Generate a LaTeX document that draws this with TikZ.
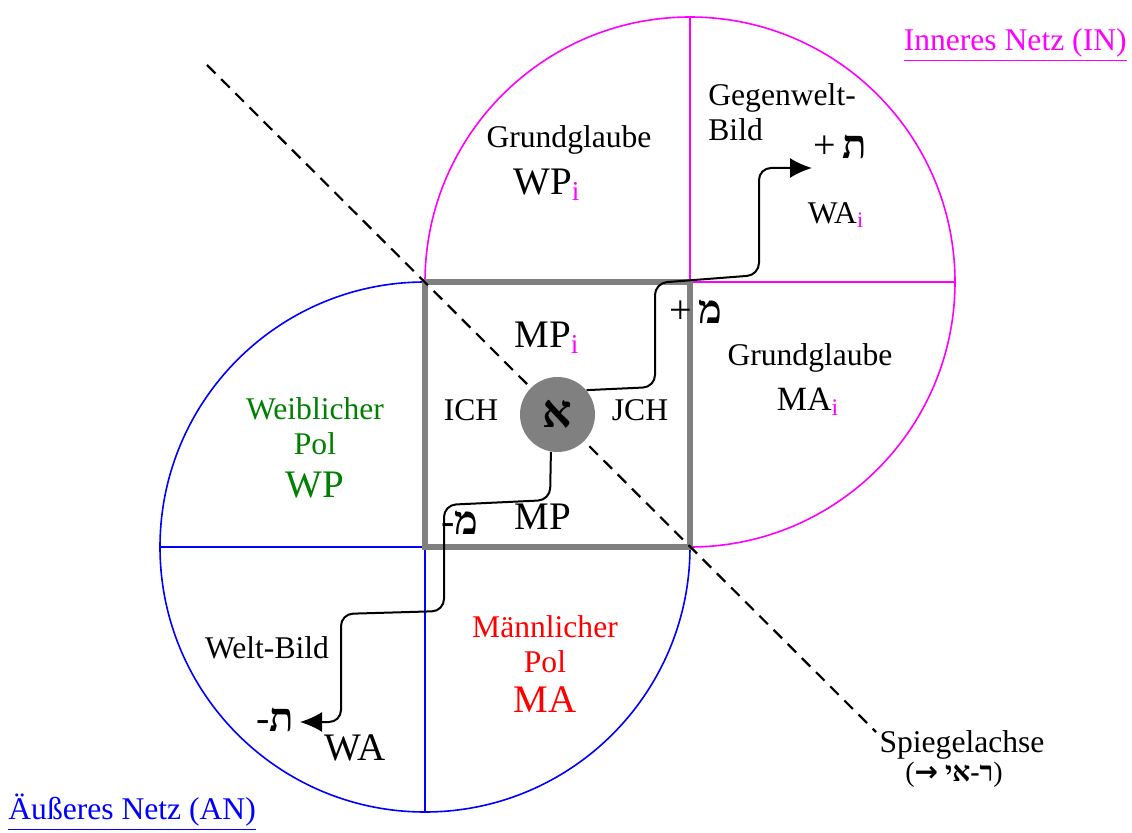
\documentclass[tikz,border=0pt]{standalone}
\usepackage{fontspec}
\setmainfont{Liberation Serif}
\newfontfamily\hebr[Script=Hebrew]{Liberation Serif}
\newfontfamily\arrowfont{DejaVu Sans}
\usetikzlibrary{arrows.meta}
\TeXXeTstate=1
\definecolor{netIN}{HTML}{FF00FF}
\definecolor{netAN}{HTML}{0000FF}
\definecolor{polW}{HTML}{008000}
\definecolor{polM}{HTML}{FF0000}
\definecolor{egoG}{HTML}{808080}
\newcommand\isub{\textsubscript{\color{netIN}i}}

\begin{document}
\begin{tikzpicture}[x=0.5pt,y=0.5pt,
  txt/.style={font=\fontsize{15.8}{17.5}\selectfont,inner sep=0pt},
  mid/.style={font=\fontsize{17}{20}\selectfont,inner sep=0pt},
  big/.style={font=\fontsize{19.5}{22}\selectfont,inner sep=0pt},
  heb/.style={font=\fontsize{20}{22}\selectfont\hebr\bfseries,inner sep=0pt},
  net/.style={line width=0.8pt},
  flow/.style={line width=1pt,rounded corners=6pt,-{Latex[length=11pt,width=10pt]}}]
\def\r{132.5pt}
\useasboundingbox (0,0) rectangle (1132,832);
% outer net
\draw[net,netAN] (425,550) arc[start angle=90,end angle=360,radius=\r];
\draw[net,netAN] (160,285)--(425,285)--(425,20);
% inner net
\draw[net,netIN] (425,550) arc[start angle=180,end angle=-90,radius=\r];
\draw[net,netIN] (690,815)--(690,550)--(955,550);
\draw[egoG,line width=3pt] (425,285) rectangle (690,550);
\draw[line width=1.1pt,dash pattern=on 6pt off 4pt] (207,767)--(876,100);
\node[circle,fill=egoG,minimum size=37.5pt,inner sep=0pt,font=\fontsize{23}{23}\selectfont\hebr\bfseries] (ego) at (557.5,417.5) {א};

\node[txt,netIN,anchor=east] (inTitle) at (1127,787) {\underline{Inneres Netz (IN)}};
\node[txt,netAN,anchor=west] (anTitle) at (8,20) {\underline{Äußeres Netz (AN)}};

\node[txt] (grWP) at (569,692) {Grundglaube};
\node[big] (wpIN) at (547,647) {WP\isub};
\node[txt,align=left,anchor=west] (gwBild) at (708,720) {Gegenwelt-\\Bild};
\node[heb] (tavP) at (840,685) {{\normalfont+}\,ת};
\node[txt] (waIN) at (836,617) {WA\isub};
\node[txt] (grMA) at (810,474) {Grundglaube};
\node[mid] (maIN) at (808,430) {MA\isub};
\node[heb] (memP) at (696,520) {{\normalfont+}\,מ};
\node[big] (mpIN) at (547,494) {MP\isub};
\node[txt] (ich) at (471,422) {ICH};
\node[txt] (jch) at (640,422) {JCH};
\node[big] (mp) at (543,315) {MP};
\node[heb] (memM) at (460,309) {{\normalfont-}מ};
\node[txt,polW,align=center] (wPol) at (315,406) {Weiblicher\\Pol};
\node[big,polW] (wp) at (315,347) {WP};
\node[txt,polM,align=center] (mPol) at (545,188) {Männlicher\\Pol};
\node[big,polM] (ma) at (545,132) {MA};
\node[txt] (wBild) at (267,184) {Welt-Bild};
\node[heb] (tavM) at (275,112) {{\normalfont-}ת};
\node[big] (wa) at (355,84) {WA};
\node[txt] (axis) at (962,87) {Spiegelachse};
\node[inner sep=0pt,font=\fontsize{14}{16}\selectfont] (axisR) at (954,57) {({\arrowfont\bfseries →} {\hebr\bfseries\beginR ר-אי\endR})};

\coordinate (gwTip) at (812,664);
\coordinate (wbTip) at (300,110);
\draw[flow] (ego.40) -- (655,445) -- (655,549) -- (759,557) -- (759,664) -- (gwTip);
\draw[flow] (ego.-100) -- (550,332) -- (444,327) -- (444,221) -- (341,218) -- (341,110) -- (wbTip);
\end{tikzpicture}
\end{document}
